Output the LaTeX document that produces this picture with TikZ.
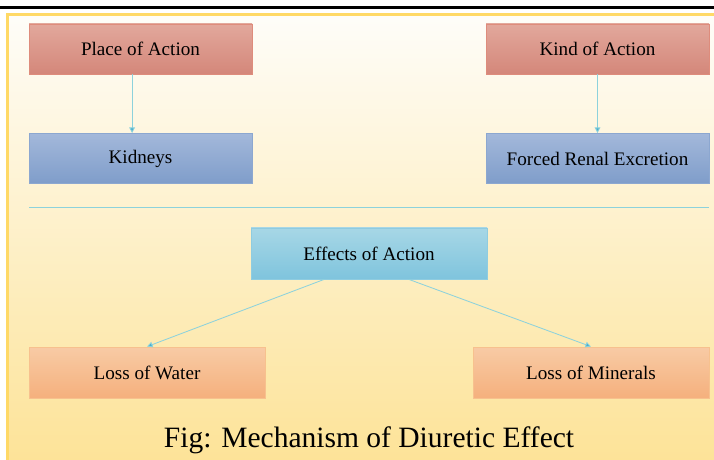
\documentclass[tikz,border=0pt]{standalone}
\usepackage{fontspec}
\setmainfont{Liberation Serif}
\usetikzlibrary{arrows.meta}

\definecolor{frameyellow}{HTML}{FFD966}
\definecolor{bgtop}{HTML}{FEFDF9}
\definecolor{bgbottom}{HTML}{FDE398}
\definecolor{linkteal}{HTML}{8DD2DC}
\definecolor{tipteal}{HTML}{4AAFCF}
\definecolor{redtop}{RGB}{226,168,156}
\definecolor{redbot}{RGB}{212,135,122}
\definecolor{redline}{RGB}{222,140,124}
\definecolor{bluetop}{RGB}{163,184,218}
\definecolor{bluebot}{RGB}{127,157,202}
\definecolor{blueline}{RGB}{140,167,208}
\definecolor{cyantop}{RGB}{167,215,230}
\definecolor{cyanbot}{RGB}{127,196,221}
\definecolor{cyanline}{RGB}{143,204,224}
\definecolor{orangetop}{RGB}{248,203,165}
\definecolor{orangebot}{RGB}{245,176,125}
\definecolor{orangeline}{RGB}{247,193,142}

\begin{document}
\begin{tikzpicture}[
        box/.style={rectangle, draw, line width=0.6pt, minimum width=5.575cm, minimum height=1.25cm, text centered, font=\fontsize{13.6}{15}\selectfont},
        wide/.style={box, minimum width=5.9cm, minimum height=1.275cm},
        redbox/.style={top color=redtop, bottom color=redbot, draw=redline},
        bluebox/.style={top color=bluetop, bottom color=bluebot, draw=blueline},
        cyanbox/.style={top color=cyantop, bottom color=cyanbot, draw=cyanline},
        orangebox/.style={top color=orangetop, bottom color=orangebot, draw=orangeline},
        arrow/.style={-{Triangle[length=4pt,width=4pt,fill=tipteal]}, draw=linkteal, line width=0.6pt}
    ]
        \useasboundingbox (0,0) rectangle (17.85,-11.5);
        % background and frame
        \shade[top color=bgtop, bottom color=bgbottom] (0.1875,-0.3625) rectangle (17.85,-11.5);
        \draw[frameyellow, line width=1.6pt] (0.1875,-11.6) -- (0.1875,-0.3625) -- (17.95,-0.3625);
        \draw[black, line width=2pt] (0,-0.19) -- (17.85,-0.19);

        \node[box, redbox] (place) at (3.5125,-1.225) {Place of Action};
        \node[box, redbox] (kind) at (14.9375,-1.225) {Kind of Action};
        \node[box, bluebox] (kidneys) at (3.5125,-3.9625) {Kidneys};
        \node[box, bluebox] (forced) at (14.9375,-3.9625) {Forced Renal Excretion};

        \draw[linkteal, line width=0.6pt] (0.725,-5.175) -- (17.725,-5.175);

        \node[wide, cyanbox] (effects) at (9.225,-6.3375) {Effects of Action};
        \node[wide, orangebox] (water) at (3.675,-9.3125) {Loss of Water};
        \node[wide, orangebox] (minerals) at (14.775,-9.3125) {Loss of Minerals};

        \node[font=\fontsize{21}{24}\selectfont] (caption) at (9.225,-11.0) {Fig: Mechanism of Diuretic Effect};

        \draw[arrow] ([xshift=-0.21cm]place.south) -- ([xshift=-0.21cm]kidneys.north);
        \draw[arrow] (kind) -- (forced);
        \draw[arrow] (effects.210) -- (water.north);
        \draw[arrow] (effects.-33) -- (minerals.north);
    \end{tikzpicture}
\end{document}
